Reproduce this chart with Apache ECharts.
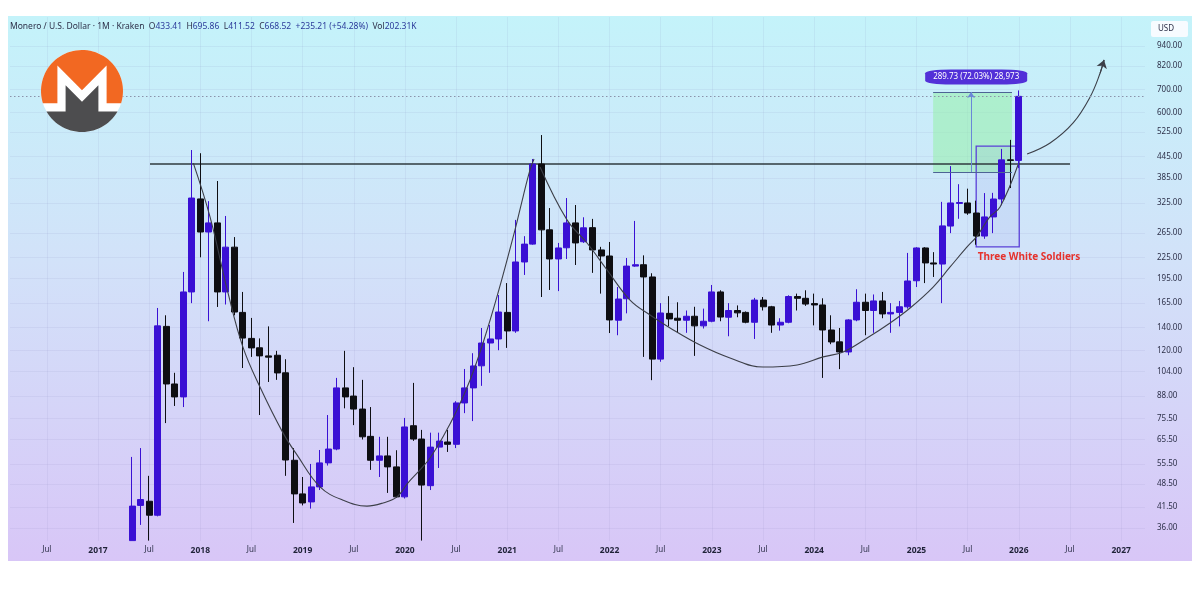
<!DOCTYPE html>
<html>
<head>
<meta charset="utf-8">
<title>Monero / U.S. Dollar</title>
<script src="https://cdn.jsdelivr.net/npm/echarts@6.0.0/dist/echarts.min.js"></script>
<style>
html,body{margin:0;padding:0;background:#ffffff;}
#chart{width:1200px;height:599px;}
</style>
</head>
<body>
<div id="chart"></div>
<script>
// ---------- DATA ----------
// month index: 0 = Jan 2017; first candle = May 2017 (index 4)
// values below the visible bottom (~33) are cut at the chart edge in the reference
const firstMonthIndex = 4;
const opens = [33.1,42,43.2,39.3,141,95.5,87.5,178,334,267,
  284,178,241,155,130,122,115.5,116,103,57,
  45.4,43,47.6,56,61.5,93,88,80.6,67,57,
  58.7,54.5,44.5,72,65.8,48,62.3,64.5,63.5,84,
  93,108,126,129.5,155,136.7,218,246,423,271,
  222.5,240,284,250,275,236.5,227,147,170,212,
  214,197,113,154,149,147,151,141.5,146,178,
  150,157,155,145,168.5,161,142.3,145,172.6,170.5,
  164.5,163,137.6,127,118.6,147.3,166,157,167.5,153.4,
  155,161,192,239.7,216.6,215,278,324,325,303.6,
  259.8,295.7,333.8,435,433.41];
const highs = [58.3,61.9,51.3,159.7,152,103,203.8,465,455,329,
  377,297.6,258,178,149.3,130,141,119.5,112.9,61.9,
  50.9,55.6,61.1,77.4,99.5,119.5,107,98.2,81.7,66.8,
  66.8,61,75.9,96.2,70,68.7,68.7,70,85,105.7,
  117.6,139.5,142.3,174.3,189,289.8,259.6,437.6,514.6,314,
  248,336,320.5,295,291.8,241.5,249.6,184,224,287.8,
  228,202,165,173,166,157,161,159,186.6,180,
  165,162.5,156,171,172,162,149,174,176,180,
  176,170.5,152,139.5,148,181.3,176,175,178,165,
  167.5,231.8,241,241,233,327.4,417,369,358,330,
  347.5,348,468.5,498,695.86];
const lows = [33.1,36.8,33.1,39,73.3,82.3,81.7,165,225,146,
  160.8,163.5,152,106.4,114.7,77.4,96.8,98.2,51.3,37.3,
  42,41.1,46.6,55,61,81,72.3,65.6,53.4,50.9,
  45.7,44.2,44,65,33.1,46.6,54.1,60.3,61.9,78.4,
  74.3,94.3,103,120,121.9,135,199.7,245,172,180.4,
  179,222.5,213.6,248,202.5,176,134.8,132.8,154,211,
  114.7,98,111,141,135,135,115.5,139,145,146,
  131.9,150,144,129.5,157,135,137,144,157,162,
  142,99.5,125,105.6,116,146,132.8,135,149,135,
  141,159,184,189,197,165,265,292,300,245,
  255,265,320,359.5,411.52];
const closes = [41.8,43.7,39.3,141.5,95.5,87.5,178,336,267,284,
  178,241,155.4,130.3,121.9,115.5,114.5,102.9,57.1,45.4,
  42.7,47.6,56,61.5,93,87.5,80.6,66.8,57,58.7,
  54.5,44.5,71.4,65.8,48.2,62.3,64.9,63.5,84,93,
  107.9,126,129.5,155.4,136.7,218,246,423,270.9,222.5,
  239.7,284,248,274.7,236.5,227,147.3,169.7,212,214,
  197,113,154.4,148.3,147,151,141.5,146,178,150.2,
  157,154.5,145,168.5,161,142.3,145,172.6,170.5,164,
  163,137.6,126.9,118.6,147.3,166,157,167.5,153.4,155,
  161,191.7,239.7,216.6,215,278.3,325,326,303.6,259.8,
  295.7,333.8,435,433.4,668.52];

const xTickValues = [-6,0,6,12,18,24,30,36,42,48,54,60,66,72,78,84,90,96,102,108,114,120];
const xTickLabels = ['Jul','2017','Jul','2018','Jul','2019','Jul','2020','Jul','2021','Jul','2022','Jul','2023','Jul','2024','Jul','2025','Jul','2026','Jul','2027'];
const yTickValues = [36,41.5,48.5,55.5,65.5,75.5,88,104,120,140,165,195,225,265,325,385,445,525,600,700,820,940];

// annotations (month index, price)
const resistanceLevel = 423;
const resistanceSpan = [6.1, 114.0];
const cupLeft = [[11.18,425.6],[13.14,295.7],[15.25,176.8],[17.0,122.6],[19.0,93.6],[21.7,68.6],[23.34,59.1],[26.04,47.6],[28.74,43.5],[31.55,41.8],[33.43,42.7],[35.07,44.5],[36.36,48.9],[37.77,53.4],[38.94,57.9],[40.47,66.8],[42.11,80.1],[43.64,98.1],[45.16,126],[46.92,176.8],[48.91,270.9],[49.85,338.3],[50.67,406.4],[51.14,437.6]];
const cupRight = [[51.85,414.6],[55.01,289.8],[57.36,247.9],[59.71,206.5],[62.4,168.5],[64.75,152.3],[67.1,139.5],[70.62,124.3],[74.13,113.9],[78.0,107.1],[82.0,108.6],[85.04,114.7],[87.4,118.6],[90.2,130.3],[92.9,144.3],[95.25,159.7],[97.95,184],[99.94,210.8],[101.93,241.3],[103.1,259.8],[104.6,295.7],[105.8,316],[107.9,420]];
const projection = [[108.97,452.7],[111.67,487.8],[114.37,558.6],[116.36,665.6],[117.54,782.6],[118.0,855]];
const measureRange = {start: 97.95, end: 107.2, low: 400.8, high: 688.6, arrowAt: 102.4};
const measureText = '289.73 (72.03%) 28,973';
const measureLabelAt = [103.0, 762];
const soldiersBox = {start: 103.0, end: 108.05, low: 241.3, high: 477.6};
const soldiersText = 'Three White Soldiers';
const soldiersLabelAt = [103.0, 225.5];
const headerTitle = 'Monero / U.S. Dollar · 1M · Kraken';
const headerValues = [['O','433.41'],['H','695.86'],['L','411.52'],['C','668.52']];
const headerChange = '+235.21 (+54.28%)';
const headerVol = '202.31K';

// ---------- CHART ----------
const UP = '#3a10d4', DOWN = '#0e0e12';
const FONT = '"Noto Sans", "Open Sans", sans-serif';
const ohlc = opens.map((o, i) => [firstMonthIndex + i, o, closes[i], lows[i], highs[i]]);
const lastClose = closes[closes.length - 1];

const yMin = 33.01, yMax = 1143.6;

// Monero logo geometry
const LG = {cx: 82, cy: 91, r: 41};
function LP(x, y) { return [LG.cx + x * LG.r, LG.cy + y * LG.r]; }
const upperEdge = [[-0.954,0.30],[-0.60,0.30],[-0.60,-0.62],[0,-0.02],[0.60,-0.62],[0.60,0.30],[0.954,0.30]];
const lowerEdge = [[-0.866,0.50],[-0.40,0.50],[-0.40,-0.14],[0,0.26],[0.40,-0.14],[0.40,0.50],[0.866,0.50]];
const orangePts = upperEdge.map(p => LP(p[0], p[1]));
for (let a = 17.5; a >= -197.5; a -= 4) orangePts.push(LP(Math.cos(a*Math.PI/180), Math.sin(a*Math.PI/180)));
const greyPts = lowerEdge.map(p => LP(p[0], p[1]));
for (let a = 30; a <= 150; a += 4) greyPts.push(LP(Math.cos(a*Math.PI/180), Math.sin(a*Math.PI/180)));

let headerRich = '{t|' + headerTitle + '}  ';
headerValues.forEach(([k, v]) => { headerRich += '{t|' + k + '}{v|' + v + '}  '; });
headerRich += '{v|' + headerChange + '}  {t|Vol}{v|' + headerVol + '}';

const chart = echarts.init(document.getElementById('chart'), null, {renderer: 'canvas'});
const option = {
  animation: false,
  backgroundColor: '#ffffff',
  textStyle: {fontFamily: FONT},
  grid: {left: 10, right: 55, top: 17, bottom: 58},
  graphic: [
    {type: 'rect', z: -10, silent: true, shape: {x: 8, y: 16, width: 1184, height: 545},
     style: {fill: new echarts.graphic.LinearGradient(0, 0, 0, 1, [
       {offset: 0, color: '#c4f3fa'}, {offset: 0.45, color: '#d2e2f9'}, {offset: 1, color: '#d8c6f7'}])}},
    {type: 'text', left: 10, top: 22, z: 10, style: {text: headerRich, font: '8.5px ' + FONT,
      rich: {t: {fill: '#2d3049', fontSize: 8.5, fontFamily: FONT}, v: {fill: '#2b3a9a', fontSize: 8.5, fontFamily: FONT}}}},
    {type: 'rect', z: 10, shape: {x: 1151, y: 21, width: 37, height: 16, r: 2}, style: {fill: '#f7fbff'}},
    {type: 'text', z: 11, left: 1158, top: 25, style: {text: 'USD', fill: '#2d3049', font: '8px ' + FONT}},
    {type: 'circle', z: 10, shape: {cx: LG.cx, cy: LG.cy, r: LG.r}, style: {fill: '#ffffff'}},
    {type: 'polygon', z: 11, shape: {points: orangePts}, style: {fill: '#f26822'}},
    {type: 'polygon', z: 11, shape: {points: greyPts}, style: {fill: '#4d4d4f'}}
  ],
  xAxis: {
    type: 'value', min: -10.32, max: 122.8,
    axisLine: {show: false},
    axisTick: {show: false, customValues: xTickValues},
    splitLine: {show: true, lineStyle: {color: 'rgba(130,130,190,0.10)', width: 1}},
    axisLabel: {
      customValues: xTickValues, margin: 5,
      formatter: v => {
        const i = xTickValues.indexOf(Math.round(v));
        const s = i >= 0 ? xTickLabels[i] : '';
        return s === 'Jul' ? '{m|' + s + '}' : '{y|' + s + '}';
      },
      rich: {
        m: {fontSize: 8, color: '#2d3049', fontFamily: FONT},
        y: {fontSize: 8.5, color: '#1f2238', fontWeight: 'bold', fontFamily: FONT}
      }
    }
  },
  yAxis: [
    {type: 'log', logBase: 10, min: yMin, max: yMax, show: false,
     axisLabel: {show: false}, splitLine: {show: false}},
    {type: 'value', position: 'right', min: Math.log10(yMin), max: Math.log10(yMax),
     axisLine: {show: false},
     axisTick: {show: false, customValues: yTickValues.map(v => Math.log10(v))},
     splitLine: {show: true, lineStyle: {color: 'rgba(130,130,190,0.10)', width: 1}},
     axisLabel: {customValues: yTickValues.map(v => Math.log10(v)), margin: 12,
       formatter: v => Math.pow(10, v).toFixed(2), fontSize: 8, color: '#2d3049', fontFamily: FONT}}
  ],
  series: [
    {
      type: 'line', name: 'resistance', yAxisIndex: 0, z: 1, symbol: 'none', silent: true, clip: true,
      data: [[resistanceSpan[0], resistanceLevel], [resistanceSpan[1], resistanceLevel]],
      lineStyle: {color: '#2f3a3e', width: 1.3},
      markArea: {silent: true, data: [
        [{coord: [measureRange.start, measureRange.high], itemStyle: {color: 'rgba(150,240,170,0.55)', borderWidth: 0}},
         {coord: [measureRange.end, measureRange.low]}],
        [{coord: [soldiersBox.start, soldiersBox.high], itemStyle: {color: 'rgba(120,100,235,0.08)', borderColor: '#5a40d8', borderWidth: 1.3}},
         {coord: [soldiersBox.end, soldiersBox.low]}]
      ]}
    },
    {
      type: 'candlestick', name: 'XMR', yAxisIndex: 0, z: 3, barWidth: 6.5, clip: true, data: ohlc,
      itemStyle: {color: UP, color0: DOWN, borderColor: UP, borderColor0: DOWN, borderWidth: 1},
      markLine: {silent: true, symbol: 'none', label: {show: false},
        lineStyle: {type: [1.5, 2.5], color: '#8a92aa', width: 1},
        data: [{yAxis: lastClose}]},
      markPoint: {silent: true, data: [
        {coord: measureLabelAt, symbol: 'roundRect', symbolSize: [102, 15],
         itemStyle: {color: '#5230d8'},
         label: {show: true, position: 'inside', formatter: measureText, color: '#ffffff', fontSize: 8, fontFamily: FONT}},
        {coord: soldiersLabelAt, symbol: 'circle', symbolSize: 1, itemStyle: {color: 'rgba(0,0,0,0)'},
         label: {show: true, position: 'right', distance: 1, formatter: soldiersText, color: '#e5322d', fontSize: 10, fontWeight: 'bold', fontFamily: FONT}}
      ]}
    },
    {type: 'line', name: 'cupLeft', yAxisIndex: 0, z: 4, symbol: 'none', smooth: 0.4, silent: true,
     data: cupLeft, lineStyle: {color: '#3c3f48', width: 1.1}},
    {type: 'line', name: 'cupRight', yAxisIndex: 0, z: 4, symbol: 'none', smooth: 0.4, silent: true,
     data: cupRight, lineStyle: {color: '#3c3f48', width: 1.1}},
    {type: 'line', name: 'projection', yAxisIndex: 0, z: 4, symbol: 'none', smooth: 0.4, silent: true,
     data: projection, lineStyle: {color: '#3c3f48', width: 1.1}},
    {type: 'lines', coordinateSystem: 'cartesian2d', xAxisIndex: 0, yAxisIndex: 0, z: 5, silent: true,
     symbol: ['none', 'arrow'], symbolSize: 8,
     lineStyle: {color: '#3c3f48', width: 1.1, opacity: 1},
     data: [{coords: [projection[projection.length - 2], projection[projection.length - 1]]}]},
    {type: 'lines', coordinateSystem: 'cartesian2d', xAxisIndex: 0, yAxisIndex: 0, z: 5, silent: true,
     symbol: 'none', lineStyle: {color: '#4d6395', width: 1, opacity: 1},
     data: [
       {coords: [[measureRange.start, measureRange.high], [measureRange.end, measureRange.high]]},
       {coords: [[measureRange.start, measureRange.low], [measureRange.end, measureRange.low]]}
     ]},
    {type: 'lines', coordinateSystem: 'cartesian2d', xAxisIndex: 0, yAxisIndex: 0, z: 5, silent: true,
     symbol: ['none', 'arrow'], symbolSize: 6, lineStyle: {color: '#6a86d8', width: 1, opacity: 1},
     data: [{coords: [[measureRange.arrowAt, measureRange.low], [measureRange.arrowAt, measureRange.high]]}]}
  ]
};
chart.setOption(option);
</script>
</body>
</html>
